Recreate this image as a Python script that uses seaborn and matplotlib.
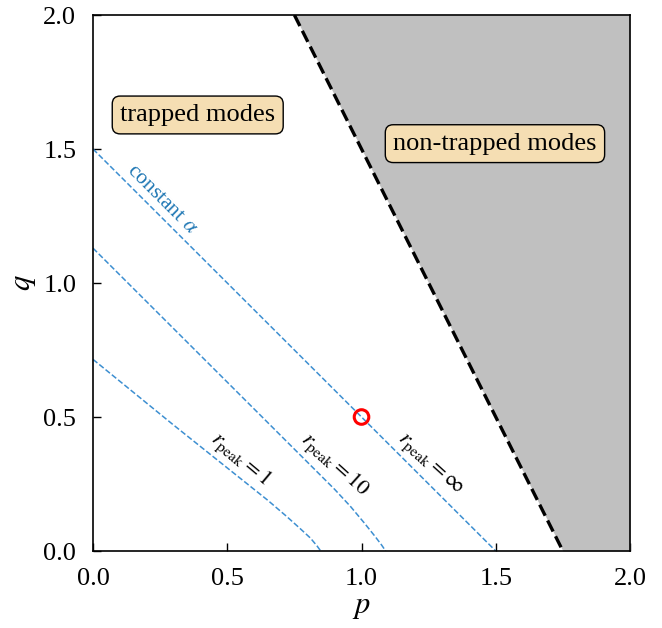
import numpy as np
import pandas as pd
import matplotlib
matplotlib.use("Agg")
import matplotlib.pyplot as plt
import seaborn as sns

# curves of constant alpha
p_inf = [0.0, 1.5]
q_inf = [1.5, 0.0]

p_r10 = [0.0, 0.3, 0.6, 0.8, 0.9, 0.96, 1.01, 1.05, 1.075, 1.09]
q_r10 = [1.13, 0.83, 0.53, 0.33, 0.23, 0.165, 0.105, 0.055, 0.022, 0.0]

p_r1 = [0.0, 0.3, 0.55, 0.65, 0.72, 0.77, 0.81, 0.835, 0.848]
q_r1 = [0.715, 0.47, 0.27, 0.19, 0.13, 0.085, 0.048, 0.018, 0.0]

# trapped / non-trapped boundary
p_bound = [0.75, 1.75]
q_bound = [2.0, 0.0]

# marked point
p_pt = [1.0]
q_pt = [0.5]

sns.set_style("ticks")
plt.rcParams['font.family'] = ['Liberation Serif', 'DejaVu Serif']
plt.rcParams['mathtext.fontset'] = 'stix'
plt.rcParams['text.color'] = 'black'
plt.rcParams['axes.labelcolor'] = 'black'
plt.rcParams['xtick.direction'] = 'in'
plt.rcParams['ytick.direction'] = 'in'

fig = plt.figure(figsize=(6.62, 6.28), dpi=100)
ax = fig.add_axes([0.1405, 0.1226, 0.8112, 0.8535])

line_col = "#3d8fd1"
text_col = "#1f77b4"

# shaded non-trapped region
ax.fill_betweenx(np.array(q_bound), p_bound, [2.0, 2.0], color="#c0c0c0", lw=0)

for pp, qv in [(p_inf, q_inf), (p_r10, q_r10), (p_r1, q_r1)]:
    df = pd.DataFrame({"p": pp, "q": qv})
    sns.lineplot(data=df, x="p", y="q", ax=ax, color=line_col, lw=1.1,
                 linestyle="--", sort=False, estimator=None)

df_b = pd.DataFrame({"p": p_bound, "q": q_bound})
sns.lineplot(data=df_b, x="p", y="q", ax=ax, color="black", lw=2.4,
             linestyle="--", sort=False, estimator=None)

df_pt = pd.DataFrame({"p": p_pt, "q": q_pt})
sns.scatterplot(data=df_pt, x="p", y="q", ax=ax, s=110, facecolor="none",
                edgecolor="red", linewidth=2.2, zorder=5)

box = dict(boxstyle="round,pad=0.3", facecolor="wheat", edgecolor="black", lw=1)
ax.text(0.39, 1.627, "trapped modes", fontsize=19, ha="center", va="center", bbox=box)
ax.text(1.497, 1.52, "non-trapped modes", fontsize=19, ha="center", va="center", bbox=box)

ax.text(0.257, 1.313, r"constant $\alpha$", fontsize=15.5, color=text_col,
        rotation=-45, ha="center", va="center", rotation_mode="anchor")
ax.text(0.547, 0.34, r"$r_{\rm peak} = 1$", fontsize=16, rotation=-40,
        ha="center", va="center", rotation_mode="anchor")
ax.text(0.901, 0.321, r"$r_{\rm peak} = 10$", fontsize=16, rotation=-42,
        ha="center", va="center", rotation_mode="anchor")
ax.text(1.251, 0.321, r"$r_{\rm peak} = \infty$", fontsize=16, rotation=-42,
        ha="center", va="center", rotation_mode="anchor")

ax.set_xlim(0, 2)
ax.set_ylim(0, 2)
ticks = [0.0, 0.5, 1.0, 1.5, 2.0]
ax.set_xticks(ticks)
ax.set_yticks(ticks)
ax.set_xticklabels(["0.0", "0.5", "1.0", "1.5", "2.0"])
ax.set_yticklabels(["0.0", "0.5", "1.0", "1.5", "2.0"])
ax.tick_params(labelsize=19, length=6, width=1, colors="black", pad=12)
for s in ax.spines.values():
    s.set_color("black")
    s.set_linewidth(1.2)

ax.set_xlabel(r"$p$", fontsize=22, labelpad=2)
ax.set_ylabel(r"$q$", fontsize=22, labelpad=4)

fig.savefig("out.png", dpi=100)
